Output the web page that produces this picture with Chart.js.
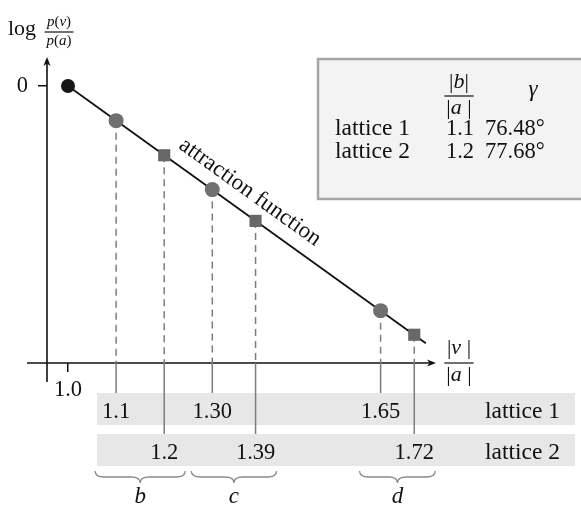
<!DOCTYPE html>
<html>
<head>
<meta charset="utf-8">
<title>attraction function</title>
<script src="https://cdn.jsdelivr.net/npm/chart.js@4.4.0/dist/chart.umd.min.js"></script>
<style>
  body { margin: 0; background: #fff; }
  #wrap { width: 581px; height: 506px; }
</style>
</head>
<body>
<div id="wrap"><canvas id="attractionChart" width="581" height="506"></canvas></div>
<script>
// values
const originPoint = [1.0, 0];
const lattice1X = [1.1, 1.30, 1.65];
const lattice1Y = [-0.125, -0.374, -0.811];
const lattice2X = [1.2, 1.39, 1.72];
const lattice2Y = [-0.250, -0.487, -0.898];
const lattice1Labels = ['1.1', '1.30', '1.65'];
const lattice2Labels = ['1.2', '1.39', '1.72'];
const lineX = [1.0, 1.744];
const lineY = [0, -0.929];
const xTickValues = [1.0];
const xTickLabels = ['1.0'];
const yTickValues = [0];
const yTickLabels = ['0'];
const braceNames = ['b', 'c', 'd'];
const tableRows = ['lattice 1', 'lattice 2'];
const tableRatios = ['1.1', '1.2'];
const tableGammas = ['76.48°', '77.68°'];
const curveName = 'attraction function';

const FAMILY = '"Liberation Serif", "Times New Roman", serif';
const INK = '#111';
const GREY_LINE = '#7d7d7d';

function font(size, italic) {
    return (italic ? 'italic ' : '') + size + 'px ' + FAMILY;
}

// draw a run of [text, italic] pieces centred on cx
function drawParts(ctx, parts, cx, baseline, size) {
    let total = 0;
    const widths = parts.map(p => {
        ctx.font = font(size, p[1]);
        const w = ctx.measureText(p[0]).width;
        total += w;
        return w;
    });
    let x = cx - total / 2;
    ctx.textAlign = 'left';
    ctx.textBaseline = 'alphabetic';
    parts.forEach((p, i) => {
        ctx.font = font(size, p[1]);
        ctx.fillText(p[0], x, baseline);
        x += widths[i];
    });
    return total;
}

function drawFraction(ctx, num, den, cx, barY, size, up, down) {
    ctx.fillStyle = INK;
    const w1 = drawParts(ctx, num, cx, barY - up, size);
    const w2 = drawParts(ctx, den, cx, barY + down, size);
    const w = Math.max(w1, w2) + 4;
    ctx.beginPath();
    ctx.moveTo(cx - w / 2, barY);
    ctx.lineTo(cx + w / 2, barY);
    ctx.lineWidth = 1.2;
    ctx.strokeStyle = INK;
    ctx.stroke();
}

function drawArrow(ctx, x, y, angle) {
    ctx.save();
    ctx.translate(x, y);
    ctx.rotate(angle);
    ctx.beginPath();
    ctx.moveTo(0, 0);
    ctx.lineTo(-9, -3.6);
    ctx.lineTo(-6.5, 0);
    ctx.lineTo(-9, 3.6);
    ctx.closePath();
    ctx.fillStyle = INK;
    ctx.fill();
    ctx.restore();
}

function drawBrace(ctx, x0, x1, top, depth) {
    const mid = (x0 + x1) / 2;
    const r = 9;
    const yMid = top + depth / 2;
    ctx.beginPath();
    ctx.moveTo(x0, top);
    ctx.quadraticCurveTo(x0, yMid, x0 + r, yMid);
    ctx.lineTo(mid - r, yMid);
    ctx.quadraticCurveTo(mid, yMid, mid, top + depth);
    ctx.quadraticCurveTo(mid, yMid, mid + r, yMid);
    ctx.lineTo(x1 - r, yMid);
    ctx.quadraticCurveTo(x1, yMid, x1, top);
    ctx.strokeStyle = '#8a8a8a';
    ctx.lineWidth = 1.3;
    ctx.stroke();
}

const figurePlugin = {
    id: 'figure',
    beforeDatasetsDraw(chart) {
        const ctx = chart.ctx;
        const area = chart.chartArea;
        ctx.save();
        ctx.strokeStyle = INK;
        ctx.lineWidth = 1.6;
        ctx.beginPath();
        ctx.moveTo(area.left, area.bottom + 19);
        ctx.lineTo(area.left, area.top + 4);
        ctx.moveTo(area.left - 20, area.bottom);
        ctx.lineTo(area.right - 4, area.bottom);
        ctx.stroke();
        drawArrow(ctx, area.left, area.top, -Math.PI / 2);
        drawArrow(ctx, area.right, area.bottom, 0);
        ctx.restore();
    },
    afterDraw(chart) {
        const ctx = chart.ctx;
        const area = chart.chartArea;
        const xs = chart.scales.x;
        const ys = chart.scales.y;
        ctx.save();

        // axis titles
        ctx.fillStyle = INK;
        ctx.font = font(22, false);
        ctx.textAlign = 'left';
        ctx.textBaseline = 'alphabetic';
        ctx.fillText('log', 8, 35);
        drawFraction(ctx, [['p', true], ['(', false], ['v', true], [')', false]],
            [['p', true], ['(', false], ['a', true], [')', false]], 59, 32, 15, 6, 13);
        drawFraction(ctx, [['|', false], ['v', true], [' |', false]],
            [['|', false], ['a', true], [' |', false]], 459, area.bottom, 22, 9, 18);

        // curve label, laid along the line
        const p0x = xs.getPixelForValue(lineX[0]), p0y = ys.getPixelForValue(lineY[0]);
        const p1x = xs.getPixelForValue(lineX[1]), p1y = ys.getPixelForValue(lineY[1]);
        const angle = Math.atan2(p1y - p0y, p1x - p0x);
        const labelAt = 1.354;
        const labelY = lineY[0] + (labelAt - lineX[0]) * (lineY[1] - lineY[0]) / (lineX[1] - lineX[0]);
        ctx.save();
        ctx.translate(xs.getPixelForValue(labelAt), ys.getPixelForValue(labelY));
        ctx.rotate(angle);
        ctx.font = font(23, false);
        ctx.textAlign = 'center';
        ctx.fillText(curveName, 0, -14);
        ctx.restore();

        // table box
        ctx.fillStyle = '#f3f3f3';
        ctx.fillRect(318, 59, 280, 140);
        ctx.strokeStyle = '#a6a6a6';
        ctx.lineWidth = 2.5;
        ctx.strokeRect(318, 59, 280, 140);
        drawFraction(ctx, [['|', false], ['b', true], ['|', false]],
            [['|', false], ['a', true], [' |', false]], 459, 96, 22, 8, 18);
        ctx.fillStyle = INK;
        ctx.font = font(23, true);
        ctx.textAlign = 'center';
        ctx.fillText('γ', 533, 96);
        tableRows.forEach((row, i) => {
            const base = 135 + i * 23;
            ctx.font = font(23.5, false);
            ctx.textAlign = 'left';
            ctx.fillText(row, 335, base);
            ctx.font = font(22.5, false);
            ctx.textAlign = 'center';
            ctx.fillText(tableRatios[i], 460, base);
            ctx.textAlign = 'left';
            ctx.fillText(tableGammas[i], 485, base);
        });

        // lattice bands under the axis
        const bandTops = [393, 434];
        ctx.fillStyle = '#e7e7e7';
        bandTops.forEach(t => ctx.fillRect(97, t, 478, 32));

        ctx.strokeStyle = GREY_LINE;
        ctx.lineWidth = 1.5;
        ctx.beginPath();
        lattice1X.forEach(v => {
            const px = xs.getPixelForValue(v);
            ctx.moveTo(px, area.bottom);
            ctx.lineTo(px, bandTops[0]);
        });
        lattice2X.forEach(v => {
            const px = xs.getPixelForValue(v);
            ctx.moveTo(px, area.bottom);
            ctx.lineTo(px, bandTops[1]);
        });
        ctx.stroke();

        ctx.fillStyle = INK;
        ctx.font = font(22.5, false);
        ctx.textAlign = 'center';
        lattice1X.forEach((v, i) => ctx.fillText(lattice1Labels[i], xs.getPixelForValue(v), 418));
        lattice2X.forEach((v, i) => ctx.fillText(lattice2Labels[i], xs.getPixelForValue(v), 459));
        ctx.font = font(23.5, false);
        ctx.textAlign = 'left';
        ctx.fillText(tableRows[0], 485, 418);
        ctx.fillText(tableRows[1], 485, 459);

        // braces grouping each pair
        braceNames.forEach((name, i) => {
            const a = xs.getPixelForValue(lattice1X[i]);
            const b = xs.getPixelForValue(lattice2X[i]);
            const x0 = Math.min(a, b) - 21;
            const x1 = Math.max(a, b) + 21;
            drawBrace(ctx, x0, x1, 471, 12);
            ctx.fillStyle = INK;
            ctx.font = font(23, true);
            ctx.textAlign = 'center';
            ctx.fillText(name, (x0 + x1) / 2, 503);
        });

        ctx.restore();
    }
};

const dropData = [];
lattice1X.forEach((x, i) => dropData.push({ x: x, y: lattice1Y[i] }, { x: x, y: -1 }, { x: x, y: null }));
lattice2X.forEach((x, i) => dropData.push({ x: x, y: lattice2Y[i] }, { x: x, y: -1 }, { x: x, y: null }));

const tickFont = { family: FAMILY, size: 22.5 };
const ctx = document.getElementById('attractionChart').getContext('2d');

new Chart(ctx, {
    type: 'scatter',
    data: {
        datasets: [
            {
                label: 'origin',
                data: [{ x: originPoint[0], y: originPoint[1] }],
                pointStyle: 'circle',
                pointRadius: 7,
                backgroundColor: '#161616',
                borderWidth: 0,
                order: 0
            },
            {
                label: tableRows[0],
                data: lattice1X.map((x, i) => ({ x: x, y: lattice1Y[i] })),
                pointStyle: 'circle',
                pointRadius: 7.5,
                backgroundColor: '#707070',
                borderWidth: 0,
                order: 0
            },
            {
                label: tableRows[1],
                data: lattice2X.map((x, i) => ({ x: x, y: lattice2Y[i] })),
                pointStyle: 'rect',
                pointRadius: 8.6,
                backgroundColor: '#686868',
                borderWidth: 0,
                order: 0
            },
            {
                label: curveName,
                data: lineX.map((x, i) => ({ x: x, y: lineY[i] })),
                showLine: true,
                pointRadius: 0,
                borderColor: INK,
                borderWidth: 1.8,
                order: 1
            },
            {
                label: 'drops',
                data: dropData,
                showLine: true,
                spanGaps: false,
                pointRadius: 0,
                borderColor: GREY_LINE,
                borderWidth: 1.5,
                borderDash: [7, 5],
                order: 2
            }
        ]
    },
    options: {
        responsive: false,
        animation: false,
        events: [],
        layout: { padding: { top: 57, right: 145, bottom: 0, left: 0 } },
        scales: {
            x: {
                type: 'linear',
                min: 0.9563,
                max: 1.7652,
                afterFit: s => { s.height = 143; },
                afterBuildTicks: s => { s.ticks = xTickValues.map(v => ({ value: v })); },
                ticks: {
                    callback: (v, i) => xTickLabels[i],
                    padding: 5,
                    color: INK,
                    font: tickFont,
                    maxRotation: 0,
                    autoSkip: false
                },
                grid: { drawOnChartArea: false, drawTicks: true, tickLength: 9, color: INK, lineWidth: 1.5 },
                border: { display: false }
            },
            y: {
                type: 'linear',
                min: -1,
                max: 0.1047,
                afterFit: s => { s.width = 47; },
                afterBuildTicks: s => { s.ticks = yTickValues.map(v => ({ value: v })); },
                ticks: {
                    callback: (v, i) => yTickLabels[i],
                    padding: 10,
                    color: INK,
                    font: tickFont
                },
                grid: { drawOnChartArea: false, drawTicks: true, tickLength: 9, color: INK, lineWidth: 1.5 },
                border: { display: false }
            }
        },
        plugins: {
            legend: { display: false },
            tooltip: { enabled: false }
        }
    },
    plugins: [figurePlugin]
});
</script>
</body>
</html>
